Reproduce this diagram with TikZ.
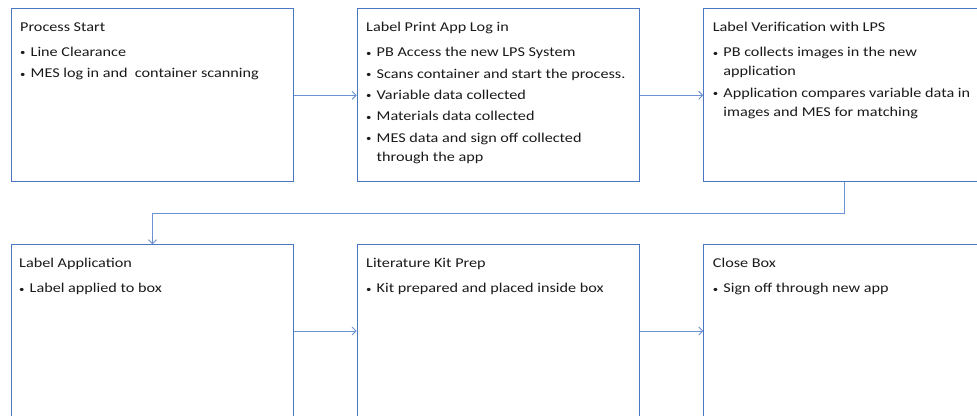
\documentclass[tikz,border=0pt]{standalone}
\usepackage{fontspec}
\setmainfont[FakeStretch=1.2]{Carlito}
\usetikzlibrary{arrows.meta}
\definecolor{boxblue}{HTML}{4A76C2}
\definecolor{linkblue}{HTML}{6A92D4}
\definecolor{txtgray}{HTML}{1A1A1A}
\newcommand{\bul}{\makebox[10.5pt][l]{\raisebox{0.5pt}{\fontsize{9}{9}\selectfont\textbullet}}}
\newcommand{\cont}{\hspace*{10.5pt}}
\tikzset{
  stepbox/.style={draw=boxblue, line width=1pt, fill=white, rectangle, anchor=north west,
    minimum width=282pt, minimum height=173pt, inner sep=0pt},
  steptext/.style={anchor=north west, inner sep=0pt, align=left, text=txtgray,
    font=\fontsize{13.5}{19}\selectfont},
  link/.style={draw=linkblue, line width=0.9pt, -{Straight Barb[length=4pt,width=8pt]}}
}
\begin{document}
\begin{tikzpicture}[x=1pt,y=-1pt]
\clip (0,0) rectangle (977,415);
\fill[white] (0,0) rectangle (977,415);
% boxes
\node[stepbox] (b1) at (11,8.3) {};
\node[stepbox] (b2) at (356.7,8.3) {};
\node[stepbox] (b3) at (703.3,8.3) {};
\node[stepbox] (b4) at (11,244.3) {};
\node[stepbox] (b5) at (356.7,244.3) {};
\node[stepbox] (b6) at (703.3,244.3) {};
% texts
\node[steptext] (t1) at ([xshift=9pt,yshift=-14pt]b1.north west) {Process Start\\[6pt]
\bul Line Clearance\\[2.3pt]
\bul MES log in and\ \ container scanning};
\node[steptext] (t2) at ([xshift=9.3pt,yshift=-14pt]b2.north west) {Label Print App Log in\\[6pt]
\bul PB Access the new LPS System\\[2.3pt]
\bul Scans container and start the process.\\[2.3pt]
\bul Variable data collected\\[2.3pt]
\bul Materials data collected\\[2.3pt]
\bul MES data and sign off collected\\
\cont through the app};
\node[steptext] (t3) at ([xshift=9.4pt,yshift=-14pt]b3.north west) {Label Verification with LPS\\[6pt]
\bul PB collects images in the new\\
\cont application\\[2.3pt]
\bul Application compares variable data in\\
\cont images and MES for matching};
\node[steptext] (t4) at ([xshift=8pt,yshift=-14pt]b4.north west) {Label Application\\[6pt]
\bul Label applied to box};
\node[steptext] (t5) at ([xshift=9.3pt,yshift=-14pt]b5.north west) {Literature Kit Prep\\[6pt]
\bul Kit prepared and placed inside box};
\node[steptext] (t6) at ([xshift=9.4pt,yshift=-14pt]b6.north west) {Close Box\\[6pt]
\bul Sign off through new app};
% connectors
\draw[link] (b1.east) -- (b2.west);
\draw[link] (b2.east) -- (b3.west);
\draw[link] (b3.south) -- ++(0,31.5) -| (b4.north);
\draw[link] (b4.east |- 0,331) -- (b5.west |- 0,331);
\draw[link] (b5.east |- 0,331) -- (b6.west |- 0,331);
\end{tikzpicture}
\end{document}
